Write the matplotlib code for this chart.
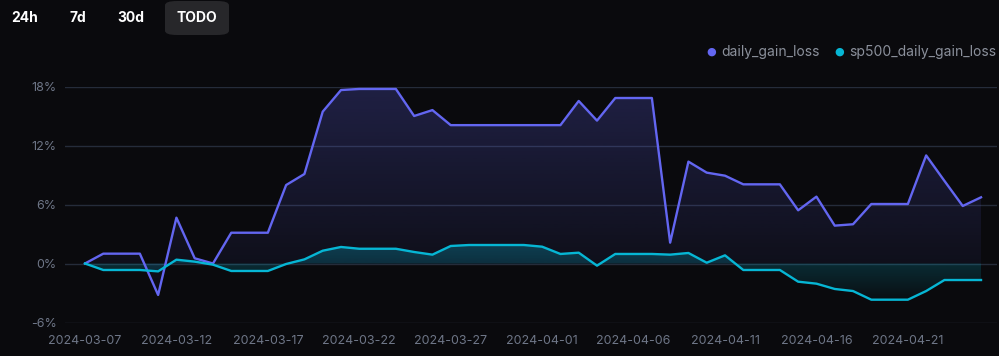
import numpy as np
import pandas as pd
import matplotlib
matplotlib.use('Agg')
import matplotlib.pyplot as plt
import matplotlib.dates as mdates
from matplotlib.colors import to_rgb
from matplotlib.patches import FancyBboxPatch

plt.rcParams['font.family'] = ['Inter', 'DejaVu Sans']

# datos (porcentaje)
fechas = pd.date_range('2024-03-07', '2024-04-25', freq='D')
daily_gain_loss = [
    0.0, 1.0, 1.0, 1.0, -3.2, 4.66, 0.53, 0.0, 3.13, 3.13,
    3.13, 7.98, 9.1, 15.44, 17.64, 17.75, 17.75, 17.75, 15.0, 15.6,
    14.07, 14.07, 14.07, 14.07, 14.07, 14.07, 14.07, 16.53, 14.53, 16.83,
    16.83, 16.83, 2.12, 10.36, 9.24, 8.93, 8.05, 8.05, 8.05, 5.41,
    6.8, 3.85, 3.99, 6.05, 6.05, 6.05, 10.99, 8.4, 5.85, 6.73,
]
sp500_daily_gain_loss = [
    0.0, -0.66, -0.66, -0.66, -0.8, 0.39, 0.19, -0.12, -0.76, -0.76,
    -0.76, -0.05, 0.42, 1.3, 1.68, 1.5, 1.5, 1.5, 1.17, 0.9,
    1.78, 1.88, 1.88, 1.88, 1.88, 1.71, 0.97, 1.1, -0.22, 0.97,
    0.97, 0.97, 0.9, 1.07, 0.08, 0.83, -0.66, -0.66, -0.66, -1.85,
    -2.05, -2.59, -2.8, -3.68, -3.68, -3.68, -2.8, -1.68, -1.68, -1.68,
]
yticks = [-6, 0, 6, 12, 18]
botones = ['24h', '7d', '30d', 'TODO']

fondo = '#0a0a0d'
morado = '#6366f1'
cian = '#06b6d4'
gris = '#6e7687'


def relleno_degradado(ax, x, y, color, alfa_arriba, alfa_abajo):
    # area entre la linea y cero con un degradado vertical
    poly = ax.fill_between(x, y, 0, color='none', lw=0)
    rgba = np.zeros((200, 1, 4))
    rgba[:, :, :3] = to_rgb(color)
    rgba[:, 0, 3] = np.linspace(alfa_abajo, alfa_arriba, 200)
    xn = mdates.date2num(x)
    im = ax.imshow(rgba, aspect='auto', origin='lower', zorder=1,
                   extent=[xn[0], xn[-1], min(y), max(y)])
    im.set_clip_path(poly.get_paths()[0], transform=ax.transData)


fig = plt.figure(figsize=(9.99, 3.56), dpi=100, facecolor=fondo)
ax = fig.add_axes([65 / 999, 1 - 322.5 / 356, 932 / 999, 236 / 356])
ax.set_facecolor(fondo)

relleno_degradado(ax, fechas, daily_gain_loss, morado, 0.24, 0.03)
relleno_degradado(ax, fechas, sp500_daily_gain_loss, cian, 0.28, 0.03)
ax.plot(fechas, daily_gain_loss, color=morado, lw=1.7, zorder=3)
ax.plot(fechas, sp500_daily_gain_loss, color=cian, lw=1.7, zorder=3)

ax.set_ylim(-6, 18)
ax.set_xlim(mdates.date2num(fechas[0]) - 20 / 18.3, mdates.date2num(fechas[-1]) + 16 / 18.3)
ax.set_yticks(yticks)
ax.set_yticklabels([f'{t}%' for t in yticks])
ax.set_xticks(fechas[::5])
ax.set_xticklabels([d.strftime('%Y-%m-%d') for d in fechas[::5]])
ax.tick_params(colors=gris, labelsize=9, length=0, pad=6)
ax.tick_params(axis='x', pad=9)
ax.grid(axis='y', color='#252c3a', lw=1)
ax.set_axisbelow(True)
for s in ax.spines.values():
    s.set_visible(False)

# botones de rango de tiempo
fig.patches.append(FancyBboxPatch((165 / 999, 1 - 35 / 356), 64 / 999, 34 / 356,
                                  boxstyle='round,pad=0,rounding_size=0.012',
                                  transform=fig.transFigure, fc='#27272a', ec='none'))
for txt, xc in zip(botones, [25, 78, 131, 197]):
    fig.text(xc / 999, 1 - 18 / 356, txt, color='white', fontsize=10,
             fontweight='bold', ha='center', va='center')

# leyenda
for nombre, color, xd in [('daily_gain_loss', morado, 711), ('sp500_daily_gain_loss', cian, 839)]:
    fig.text(xd / 999, 1 - 52 / 356, '●', color=color, fontsize=8,
             ha='center', va='center', family='DejaVu Sans')
    fig.text((xd + 10) / 999, 1 - 52 / 356, nombre, color='#8b909b', fontsize=10,
             ha='left', va='center')

fig.savefig('out.png', dpi=100, facecolor=fondo)
